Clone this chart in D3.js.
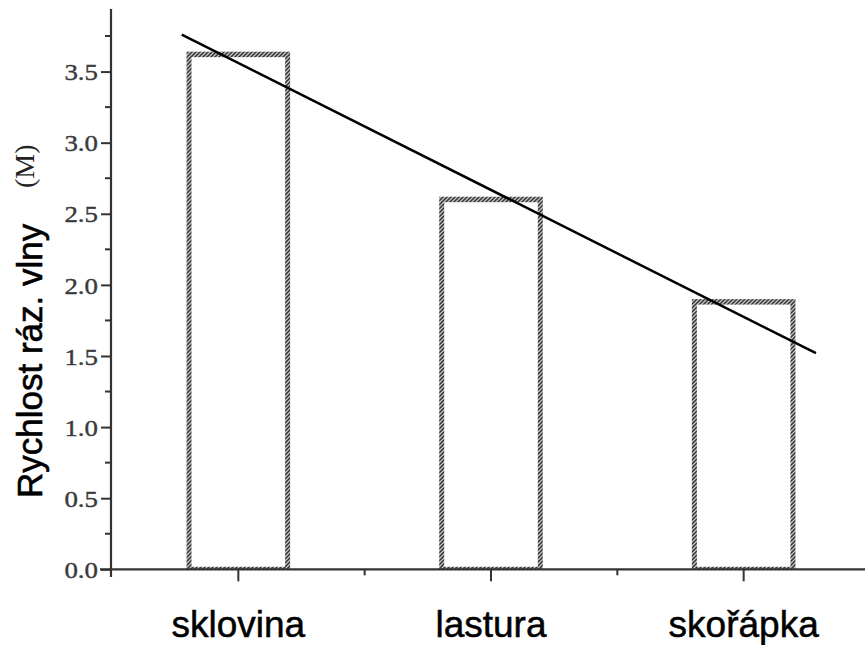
<!DOCTYPE html>
<html>
<head>
<meta charset="utf-8">
<script src="https://cdn.jsdelivr.net/npm/d3@7"></script>
<style>
  html, body { margin: 0; padding: 0; background: #fff; }
  svg { display: block; }
</style>
</head>
<body>
<svg id="chart" width="865" height="645"></svg>
<script>
// ---- data ----
const categories = ["sklovina", "lastura", "skořápka"];
const values = [3.64, 2.62, 1.9];
const yTicks = [0, 0.5, 1.0, 1.5, 2.0, 2.5, 3.0, 3.5];
const yMinorTicks = [0.25, 0.75, 1.25, 1.75, 2.25, 2.75, 3.25, 3.75];
const yLabel = "Rychlost ráz. vlny";
const yUnit = "(M)";
// trend line endpoints: category index (0-based) and value
const trendX = [-0.224, 2.286];
const trendY = [3.76, 1.52];

const svg = d3.select("#chart");

const y = d3.scaleLinear().domain([0, 3.94]).range([569.3, 9]);
const x = d3.scaleBand().domain(categories).range([112, 870])
  .paddingInner(0.59).paddingOuter(0.295);
const centers = categories.map(c => x(c) + x.bandwidth() / 2);
const xi = d3.scaleLinear().domain([0, 2]).range([centers[0], centers[2]]);

// hatch pattern
const defs = svg.append("defs");
const pat = defs.append("pattern").attr("id", "hatch")
  .attr("patternUnits", "userSpaceOnUse").attr("width", 4).attr("height", 4);
pat.append("rect").attr("width", 4).attr("height", 4).attr("fill", "#c4c4c4");
pat.append("path").attr("d", "M-1,1 l2,-2 M0,4 l4,-4 M3,5 l2,-2")
  .attr("stroke", "#333").attr("stroke-width", 1.5);

// bars
const bars = svg.append("g");
bars.selectAll("rect.outer").data(values).join("rect")
  .attr("class", "outer")
  .attr("x", (d, i) => x(categories[i]))
  .attr("y", d => y(d))
  .attr("width", x.bandwidth())
  .attr("height", d => y(0) - y(d))
  .attr("fill", "url(#hatch)");
bars.selectAll("rect.inner").data(values).join("rect")
  .attr("class", "inner")
  .attr("x", (d, i) => x(categories[i]) + 5)
  .attr("y", d => y(d) + 5.5)
  .attr("width", x.bandwidth() - 10)
  .attr("height", d => y(0) - y(d) - 8)
  .attr("fill", "#fff");

// y axis
const yAxis = svg.append("g").attr("transform", "translate(111,0)")
  .call(d3.axisLeft(y).tickValues(yTicks).tickFormat(d3.format(".1f"))
    .tickSize(10).tickPadding(0));
yAxis.attr("font-size", null).attr("font-family", null);
yAxis.select(".domain").remove();
yAxis.selectAll(".tick line").attr("stroke", "#333").attr("stroke-width", 2);
yAxis.selectAll(".tick text")
  .style("font-family", "'Liberation Serif', 'Times New Roman', serif")
  .style("font-size", "24px")
  .attr("fill", "#3a3a3a")
  .attr("stroke", "#3a3a3a").attr("stroke-width", 0.4)
  .attr("x", -13 / 1.12)
  .attr("dy", "0.34em")
  .attr("transform", "scale(1.12,1)");
yAxis.selectAll("line.minor").data(yMinorTicks).join("line")
  .attr("class", "minor")
  .attr("x1", -6).attr("x2", 0)
  .attr("y1", d => y(d)).attr("y2", d => y(d))
  .attr("stroke", "#333").attr("stroke-width", 2);
yAxis.append("line").attr("x1", 0).attr("x2", 0).attr("y1", 9).attr("y2", 577)
  .attr("stroke", "#333").attr("stroke-width", 2.2);

// x axis
const xAxis = svg.append("g").attr("transform", `translate(0,${y(0)})`)
  .call(d3.axisBottom(x).tickSize(12).tickFormat(""));
xAxis.select(".domain").remove();
xAxis.selectAll(".tick line").attr("stroke", "#333").attr("stroke-width", 2);
xAxis.append("line").attr("x1", 100).attr("x2", 865).attr("y1", 0).attr("y2", 0)
  .attr("stroke", "#333").attr("stroke-width", 2.2);
const minorX = d3.pairs(centers).map(p => (p[0] + p[1]) / 2);
xAxis.selectAll("line.minor").data(minorX).join("line")
  .attr("class", "minor")
  .attr("x1", d => d).attr("x2", d => d).attr("y1", 0).attr("y2", 6)
  .attr("stroke", "#333").attr("stroke-width", 2);

// category labels
svg.append("g").selectAll("text").data(categories).join("text")
  .attr("x", d => x(d) + x.bandwidth() / 2)
  .attr("y", 637)
  .attr("text-anchor", "middle")
  .style("font-family", "'Liberation Sans', Arial, sans-serif")
  .style("font-size", "37px")
  .attr("fill", "#000")
  .attr("stroke", "#000").attr("stroke-width", 0.5)
  .text(d => d);

// y label
svg.append("text")
  .attr("transform", "translate(41.5,498) rotate(-90)")
  .style("font-family", "'Liberation Sans', Arial, sans-serif")
  .style("font-size", "35px")
  .attr("fill", "#000")
  .attr("stroke", "#000").attr("stroke-width", 0.6)
  .text(yLabel);
svg.append("text")
  .attr("transform", "translate(34,188) rotate(-90)")
  .style("font-family", "'Liberation Serif', 'Times New Roman', serif")
  .style("font-size", "28px")
  .attr("fill", "#222")
  .text(yUnit);

// trend line
svg.append("line")
  .attr("x1", xi(trendX[0])).attr("y1", y(trendY[0]))
  .attr("x2", xi(trendX[1])).attr("y2", y(trendY[1]))
  .attr("stroke", "#000").attr("stroke-width", 2.5);
</script>
</body>
</html>
